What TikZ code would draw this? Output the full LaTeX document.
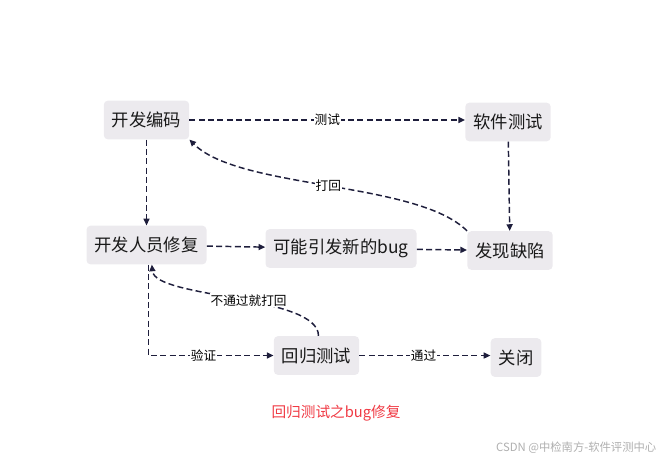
\documentclass[tikz,border=0pt]{standalone}
\usepackage{fontspec}
\setmainfont{Noto Sans CJK SC}
\usetikzlibrary{arrows.meta}
\definecolor{boxfill}{RGB}{236,234,238}
\definecolor{edgecol}{RGB}{30,30,60}
\definecolor{capred}{RGB}{240,58,68}
\definecolor{wmgray}{RGB}{175,175,175}
\tikzset{
  box/.style={fill=boxfill, rounded corners=3pt, inner xsep=6pt, inner ysep=0pt,
    minimum height=29pt, font=\fontsize{13}{15}\selectfont, text=black!90},
  conn/.style={draw=edgecol, line width=1.1pt, dash pattern=on 4.5pt off 2.5pt,
    -{Triangle[length=5pt,width=4.5pt]}},
  lbl/.style={fill=white, inner sep=0.8pt, font=\fontsize{9.5}{11}\selectfont, text=black}
}
\begin{document}
\begin{tikzpicture}[x=0.75pt,y=-0.75pt]
\useasboundingbox (0,0) rectangle (666,462);
\node[box] (kfbm) at (146.5,120) {开发编码};
\node[box] (rjcs) at (508,122) {软件测试};
\node[box] (kfrx) at (146.5,245) {开发人员修复};
\node[box] (kn) at (341,248.5) {可能引发新的bug};
\node[box] (fxqx) at (510,250.5) {发现缺陷};
\node[box] (hgcs) at (316.5,355.5) {回归测试};
\node[box] (gb) at (516,357.5) {关闭};

\draw[conn] (kfbm.east) -- node[lbl]{测试} (rjcs.west |- kfbm.east);
\draw[conn] (rjcs) -- (fxqx);
\draw[conn] (fxqx.north west) .. controls +(-50,-50) and +(50,50) .. node[lbl]{打回} (kfbm.south east);
\draw[conn] (kfbm) -- (kfrx);
\draw[conn] (kfrx) -- (kn);
\draw[conn] (kn) -- (fxqx);
\draw[conn] ([xshift=1.5pt]kfrx.south) |- node[lbl, pos=0.72]{验证} (hgcs.west);
\draw[conn] ([xshift=1.5pt]hgcs.north) .. controls +(0,-41) and +(3,34) .. node[lbl, pos=0.45]{不通过就打回} ([xshift=4pt]kfrx.south);
\draw[conn] (hgcs.east) -- node[lbl, pos=0.49]{通过} (gb.west |- hgcs.east);

\node[font=\fontsize{11}{13}\selectfont, text=capred] (cap) at (336,413) {回归测试之bug修复};
\node[font=\fontsize{8.5}{10}\selectfont, text=wmgray, anchor=east] (wm) at (661,448) {CSDN @中检南方-软件评测中心};
\end{tikzpicture}
\end{document}
